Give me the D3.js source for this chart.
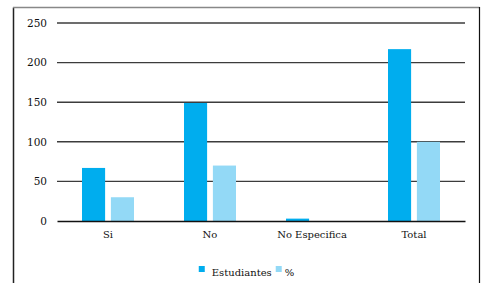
<!DOCTYPE html>
<html>
<head>
<meta charset="utf-8">
<title>Estudiantes</title>
<script src="https://d3js.org/d3.v7.min.js"></script>
<style>
  body { margin: 0; background: #fff; }
</style>
</head>
<body>
<div id="output"></div>
<script>
    // data
    var categories = ["Si", "No", "No Especifica", "Total"];
    var seriesNames = ["Estudiantes", "%"];
    var estudiantes = [67, 149, 3, 217];
    var porcentaje = [30, 70, 0, 100];
    var yTicks = [0, 50, 100, 150, 200, 250];

    var colors = ["#00adee", "#93d9f6"];
    var serif = "'DejaVu Serif', serif";
    var fs = 10;

    var w = 483, h = 283;
    var margin = {top: 23, right: 18, bottom: 62, left: 57};
    var wChart = w - margin.left - margin.right;   // 408
    var hChart = h - margin.top - margin.bottom;   // 198

    var rows = categories.map(function(c, i) {
        return {cat: c, values: [estudiantes[i], porcentaje[i]]};
    });

    var svg = d3.select("#output").append("svg")
        .attr("width", w)
        .attr("height", h)
        .style("font-family", serif);

    // frame of the figure
    svg.append("line").attr("x1", 13.5).attr("x2", 13.5).attr("y1", 7.5).attr("y2", h)
        .attr("stroke", "#222").attr("stroke-width", 1.5);
    svg.append("line").attr("x1", 13).attr("x2", 479.5).attr("y1", 7.5).attr("y2", 7.5)
        .attr("stroke", "#888").attr("stroke-width", 1.5);
    svg.append("line").attr("x1", 479.5).attr("x2", 479.5).attr("y1", 7).attr("y2", h)
        .attr("stroke", "#111").attr("stroke-width", 1.2);

    var x0 = d3.scaleBand()
        .domain(categories)
        .range([0, wChart]);

    var x1 = d3.scaleBand()
        .domain(d3.range(seriesNames.length))
        .range([x0.bandwidth() / 2 - 26, x0.bandwidth() / 2 + 26])
        .paddingInner(0.2);

    var y = d3.scaleLinear()
        .domain([0, 250])
        .range([hChart, 0]);

    var chart = svg.append("g")
        .attr("transform", "translate(" + margin.left + "," + margin.top + ")");

    // gridlines
    chart.selectAll(".grid")
        .data(yTicks.filter(function(d) { return d > 0; }))
        .enter().append("line")
        .attr("class", "grid")
        .attr("x1", 0).attr("x2", wChart)
        .attr("y1", function(d) { return y(d); })
        .attr("y2", function(d) { return y(d); })
        .attr("stroke", "#3c3c3c")
        .attr("stroke-width", 1.4);

    // y labels
    var yAxis = d3.axisLeft(y).tickValues(yTicks).tickSize(0).tickPadding(10);
    var yg = chart.append("g").call(yAxis);
    yg.select(".domain").remove();
    yg.selectAll("text").attr("fill", "#111")
        .style("font-family", serif).style("font-size", "10.5px");

    // bars
    var groups = chart.selectAll(".cat")
        .data(rows)
        .enter().append("g")
        .attr("class", "cat")
        .attr("transform", function(d) { return "translate(" + x0(d.cat) + ",0)"; });

    groups.selectAll("rect")
        .data(function(d) { return d.values; })
        .enter().append("rect")
        .attr("x", function(d, i) { return x1(i); })
        .attr("width", x1.bandwidth())
        .attr("y", function(d) { return y(d); })
        .attr("height", function(d) { return hChart - y(d); })
        .attr("fill", function(d, i) { return colors[i]; });

    // x axis
    var xAxis = d3.axisBottom(x0).tickSize(0).tickPadding(10);
    var xg = chart.append("g")
        .attr("transform", "translate(0," + hChart + ")")
        .call(xAxis);
    xg.select(".domain").attr("stroke", "#111").attr("stroke-width", 1.4);
    xg.selectAll("text").attr("fill", "#111")
        .style("font-family", serif).style("font-size", fs + "px");

    // legend, centred under the plot
    var legend = svg.append("g").attr("transform", "translate(0,266)");
    var cursor = 0;
    var items = [];
    seriesNames.forEach(function(name, i) {
        var sq = legend.append("rect")
            .attr("x", cursor).attr("y", 0)
            .attr("width", 6).attr("height", 6)
            .attr("fill", colors[i]);
        cursor += 6 + (i === 0 ? 7 : 3);
        var t = legend.append("text")
            .attr("x", cursor).attr("y", 9.5)
            .style("font-family", serif).style("font-size", fs + "px")
            .attr("fill", "#111")
            .text(name);
        cursor += t.node().getComputedTextLength() + 4;
    });
    var total = cursor - 4;
    legend.attr("transform", "translate(" + (246.5 - total / 2) + ",266)");
</script>
</body>
</html>
